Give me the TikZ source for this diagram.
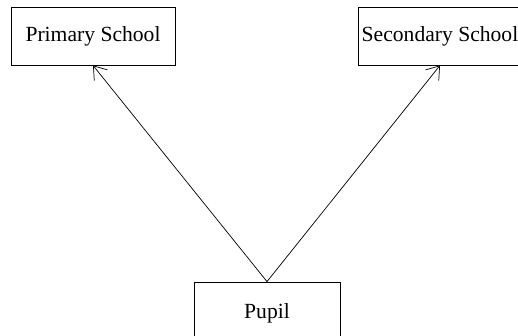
\documentclass[tikz,border=0pt]{standalone}
\usepackage{fontspec}
\setmainfont{Liberation Serif}
\usetikzlibrary{arrows.meta}

\begin{document}
\begin{tikzpicture}
  [x=1pt,y=-1pt,
  box/.style={draw,line width=0.8pt,minimum width=164pt,minimum height=58pt,
    inner sep=0pt,font=\fontsize{21.6}{24}\selectfont},
  link/.style={line width=0.7pt,-{Straight Barb[length=12pt,width=17pt,line width=0.7pt]}}]
  \useasboundingbox (0,0) rectangle (518,336);
  \node[box] (primary) at (93,36) {Primary School};
  \node[box] (secondary) at (440,36) {Secondary School};
  \node[box,minimum width=146pt,minimum height=63pt] (pupil) at (267,313.5) {Pupil};
  \draw[link] (pupil.north) -- (primary.south);
  \draw[link] (pupil.north) -- (secondary.south);
\end{tikzpicture}
\end{document}
